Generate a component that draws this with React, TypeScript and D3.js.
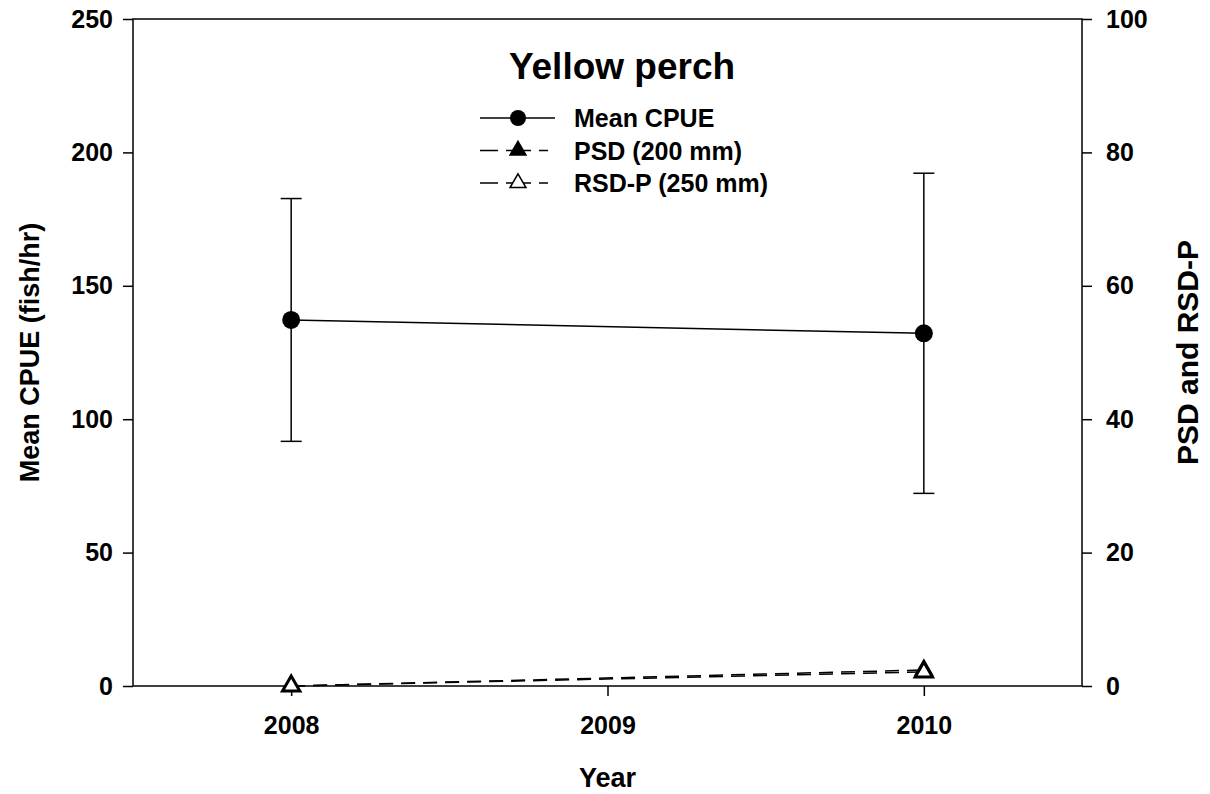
import { useEffect, useRef } from 'react'
import * as d3 from 'd3'

// Data
const years = [2008, 2010]
const cpueMean = [137.2, 132.2]
const cpueSE = [45.5, 60]
const psd = [0, 2.4]
const rsdp = [0, 2.1]

const leftTicks = [0, 50, 100, 150, 200, 250]
const rightTicks = [0, 20, 40, 60, 80, 100]
const yearTicks = [2008, 2009, 2010]

const legendItems = ['Mean CPUE', 'PSD (200 mm)', 'RSD-P (250 mm)']

const FONT = 'Arial, "Liberation Sans", Helvetica, sans-serif'

export default function App() {
  const svgRef = useRef<SVGSVGElement>(null)

  useEffect(() => {
    if (!svgRef.current) return
    const svg = d3.select(svgRef.current)
    svg.selectAll('*').remove()

    const margin = { top: 19, right: 128, bottom: 108, left: 133 }
    const width = 1210
    const height = 794
    const innerW = width - margin.left - margin.right
    const innerH = height - margin.top - margin.bottom

    const x = d3.scaleLinear().domain([2007.5, 2010.5]).range([0, innerW])
    const yL = d3.scaleLinear().domain([0, 250]).range([innerH, 0])
    const yR = d3.scaleLinear().domain([0, 100]).range([innerH, 0])

    const g = svg.append('g').attr('transform', `translate(${margin.left},${margin.top})`)

    // frame
    g.append('rect')
      .attr('width', innerW).attr('height', innerH)
      .attr('fill', 'none').attr('stroke', '#000').attr('stroke-width', 1.5)

    const styleAxis = (sel: d3.Selection<SVGGElement, unknown, null, undefined>) => {
      sel.select('.domain').remove()
      sel.selectAll('line').attr('stroke', '#000').attr('stroke-width', 1.5)
      sel.selectAll('text')
        .attr('font-family', FONT).attr('font-weight', 'bold').attr('font-size', 25).attr('fill', '#000')
    }

    g.append('g')
      .call(d3.axisLeft(yL).tickValues(leftTicks).tickSize(10).tickPadding(10))
      .call(styleAxis)
    g.append('g')
      .attr('transform', `translate(${innerW},0)`)
      .call(d3.axisRight(yR).tickValues(rightTicks).tickSize(10).tickPadding(14))
      .call(styleAxis)
    g.append('g')
      .attr('transform', `translate(0,${innerH})`)
      .call(d3.axisBottom(x).tickValues(yearTicks).tickFormat(d3.format('d')).tickSize(10).tickPadding(20))
      .call(styleAxis)

    // axis titles
    svg.append('text')
      .attr('x', margin.left + x(2009)).attr('y', 787)
      .attr('text-anchor', 'middle')
      .attr('font-family', FONT).attr('font-weight', 'bold').attr('font-size', 27)
      .text('Year')
    svg.append('text')
      .attr('transform', `translate(39,${margin.top + innerH / 2}) rotate(-90)`)
      .attr('text-anchor', 'middle')
      .attr('font-family', FONT).attr('font-weight', 'bold').attr('font-size', 27)
      .text('Mean CPUE (fish/hr)')
    svg.append('text')
      .attr('transform', `translate(1198,${margin.top + innerH / 2}) rotate(-90)`)
      .attr('text-anchor', 'middle')
      .attr('font-family', FONT).attr('font-weight', 'bold').attr('font-size', 30)
      .text('PSD and RSD-P')

    // PSD / RSD-P dashed lines
    const lineR = d3.line<number>().x((_, i) => x(years[i])).y(d => yR(d))
    g.append('path').datum(psd).attr('d', lineR)
      .attr('fill', 'none').attr('stroke', '#000').attr('stroke-width', 1.5).attr('stroke-dasharray', '14,8')
    g.append('path').datum(rsdp).attr('d', lineR)
      .attr('fill', 'none').attr('stroke', '#000').attr('stroke-width', 1.5).attr('stroke-dasharray', '14,8')

    const tri = d3.symbol().type(d3.symbolTriangle).size(130)
    g.selectAll('.psd').data(psd).join('path')
      .attr('transform', (d, i) => `translate(${x(years[i])},${yR(d)})`)
      .attr('d', tri).attr('fill', '#000').attr('stroke', '#000').attr('stroke-width', 1.5)
    g.selectAll('.rsdp').data(rsdp).join('path')
      .attr('transform', (d, i) => `translate(${x(years[i])},${yR(d)})`)
      .attr('d', tri).attr('fill', '#fff').attr('stroke', '#000').attr('stroke-width', 3)

    // CPUE error bars
    const eb = g.append('g')
    years.forEach((yr, i) => {
      const cx = x(yr)
      const top = yL(cpueMean[i] + cpueSE[i])
      const bot = yL(cpueMean[i] - cpueSE[i])
      eb.append('line').attr('x1', cx).attr('x2', cx).attr('y1', top).attr('y2', bot)
        .attr('stroke', '#000').attr('stroke-width', 1.5)
      ;[top, bot].forEach(yy => {
        eb.append('line').attr('x1', cx - 10.5).attr('x2', cx + 10.5).attr('y1', yy).attr('y2', yy)
          .attr('stroke', '#000').attr('stroke-width', 1.5)
      })
    })

    // CPUE line + markers
    const lineL = d3.line<number>().x((_, i) => x(years[i])).y(d => yL(d))
    g.append('path').datum(cpueMean).attr('d', lineL)
      .attr('fill', 'none').attr('stroke', '#000').attr('stroke-width', 1.5)
    g.selectAll('.cpue').data(cpueMean).join('circle')
      .attr('cx', (_, i) => x(years[i])).attr('cy', d => yL(d)).attr('r', 9).attr('fill', '#000')

    // title + legend
    svg.append('text')
      .attr('x', 622).attr('y', 79).attr('text-anchor', 'middle')
      .attr('font-family', FONT).attr('font-weight', 'bold').attr('font-size', 37)
      .text('Yellow perch')

    const lg = svg.append('g')
    legendItems.forEach((label, i) => {
      const yy = 118 + i * 32.5
      const line = lg.append('line').attr('x1', 480).attr('x2', i === 0 ? 555 : 548).attr('y1', yy).attr('y2', yy)
        .attr('stroke', '#000').attr('stroke-width', 1.5)
      if (i > 0) line.attr('stroke-dasharray', '18,8,25,8,20')
      if (i === 0) {
        lg.append('circle').attr('cx', 518).attr('cy', yy).attr('r', 8).attr('fill', '#000')
      } else {
        lg.append('path').attr('transform', `translate(518,${yy})`)
          .attr('d', d3.symbol().type(d3.symbolTriangle).size(110)())
          .attr('fill', i === 1 ? '#000' : '#fff').attr('stroke', '#000').attr('stroke-width', 1.5)
      }
      lg.append('text').attr('x', 574).attr('y', yy + 9)
        .attr('font-family', FONT).attr('font-weight', 'bold').attr('font-size', 25)
        .text(label)
    })
  }, [])

  return (
    <svg ref={svgRef} width={1210} height={794}
      style={{ position: 'absolute', left: 0, top: 0, background: '#fff' }} />
  )
}
